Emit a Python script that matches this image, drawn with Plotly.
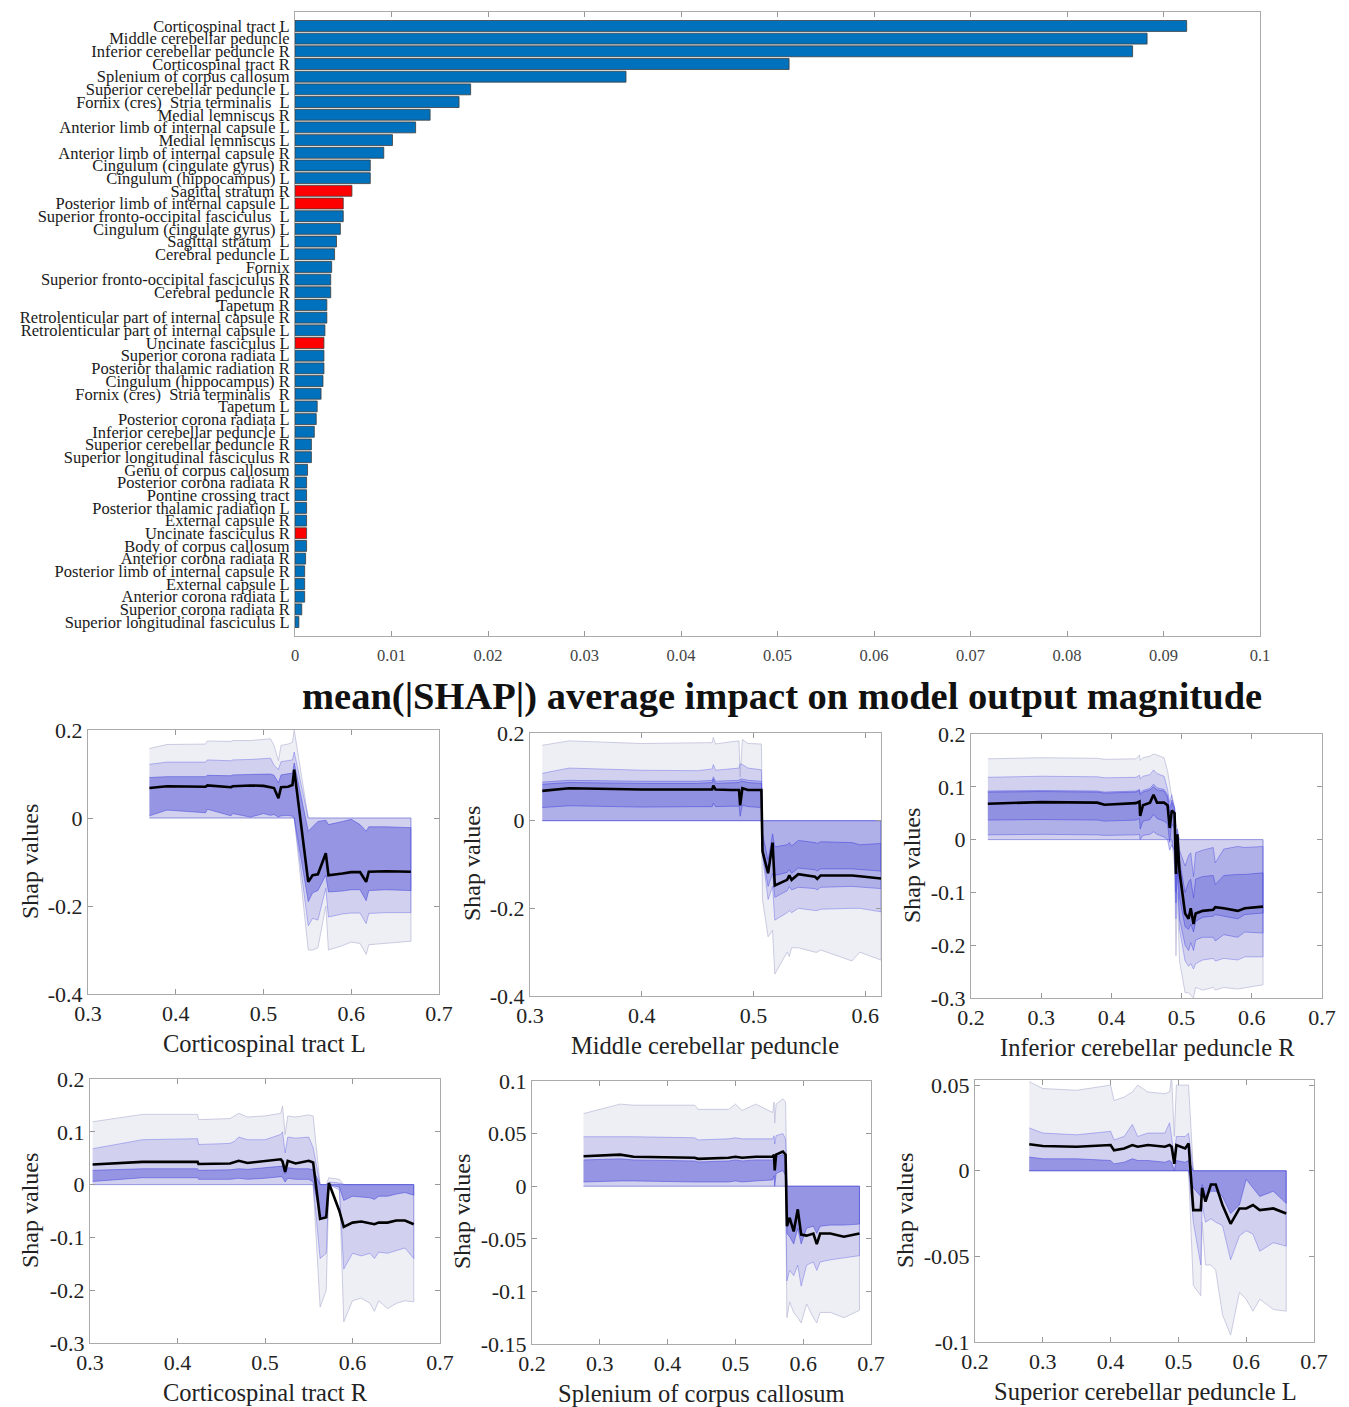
import plotly.graph_objects as go

W, H = 1349, 1407
PAGE_OFFSET = 8  # browser body margin around the figure
SERIF = "Liberation Serif"

# ---------------- bar chart data ----------------
CATEGORIES = [
    "Corticospinal tract L", "Middle cerebellar peduncle", "Inferior cerebellar peduncle R",
    "Corticospinal tract R", "Splenium of corpus callosum", "Superior cerebellar peduncle L",
    "Fornix (cres)\u00a0 Stria terminalis\u00a0 L", "Medial lemniscus R", "Anterior limb of internal capsule L",
    "Medial lemniscus L", "Anterior limb of internal capsule R", "Cingulum (cingulate gyrus) R",
    "Cingulum (hippocampus) L", "Sagittal stratum R", "Posterior limb of internal capsule L",
    "Superior fronto-occipital fasciculus\u00a0 L", "Cingulum (cingulate gyrus) L", "Sagittal stratum\u00a0 L",
    "Cerebral peduncle L", "Fornix", "Superior fronto-occipital fasciculus R", "Cerebral peduncle R",
    "Tapetum R", "Retrolenticular part of internal capsule R", "Retrolenticular part of internal capsule L",
    "Uncinate fasciculus L", "Superior corona radiata L", "Posterior thalamic radiation R",
    "Cingulum (hippocampus) R", "Fornix (cres)\u00a0 Stria terminalis\u00a0 R", "Tapetum L",
    "Posterior corona radiata L", "Inferior cerebellar peduncle L", "Superior cerebellar peduncle R",
    "Superior longitudinal fasciculus R", "Genu of corpus callosum", "Posterior corona radiata R",
    "Pontine crossing tract", "Posterior thalamic radiation L", "External capsule R",
    "Uncinate fasciculus R", "Body of corpus callosum", "Anterior corona radiata R",
    "Posterior limb of internal capsule R", "External capsule L", "Anterior corona radiata L",
    "Superior corona radiata R", "Superior longitudinal fasciculus L",
]
IMPORTANCE = [
    0.0924, 0.0883, 0.0868, 0.0512, 0.0343, 0.0182, 0.0170, 0.0140, 0.0125, 0.0101,
    0.0092, 0.0078, 0.0078, 0.0059, 0.0050, 0.0050, 0.0047, 0.0043, 0.0041, 0.0038,
    0.0037, 0.0037, 0.0033, 0.0033, 0.0031, 0.0030, 0.0030, 0.0030, 0.0029, 0.0027,
    0.0023, 0.0022, 0.0020, 0.0017, 0.0017, 0.0013, 0.0012, 0.0012, 0.0012, 0.0012,
    0.0012, 0.0012, 0.0011, 0.0010, 0.0010, 0.0010, 0.0007, 0.0004,
]
HIGHLIGHTED = ["Sagittal stratum R", "Posterior limb of internal capsule L",
               "Uncinate fasciculus L", "Uncinate fasciculus R"]
BAR_TICKS = [0, 0.01, 0.02, 0.03, 0.04, 0.05, 0.06, 0.07, 0.08, 0.09, 0.1]
BAR_TICKTEXT = ["0", "0.01", "0.02", "0.03", "0.04", "0.05", "0.06", "0.07", "0.08", "0.09", "0.1"]

# ---------------- dependence plot data ----------------
# Plot 1: Corticospinal tract L
P1_X = [0.370, 0.390, 0.434, 0.436, 0.463, 0.465, 0.485, 0.500, 0.508, 0.512, 0.517, 0.520, 0.528, 0.533, 0.535,
        0.551, 0.556, 0.562, 0.571, 0.574, 0.590, 0.600, 0.610, 0.617, 0.620, 0.640, 0.668]
P1_MED = [0.068, 0.072, 0.071, 0.074, 0.070, 0.072, 0.074, 0.073, 0.070, 0.068, 0.045, 0.070, 0.071, 0.075, 0.110,
          -0.145, -0.130, -0.128, -0.080, -0.130, -0.126, -0.123, -0.123, -0.145, -0.122, -0.121, -0.122]
P1_B1_HI = [0.158, 0.167, 0.168, 0.175, 0.174, 0.176, 0.176, 0.178, 0.180, 0.165, 0.130, 0.165, 0.168, 0.172, 0.200,
            0, 0, 0, 0, 0, 0, 0, 0, 0, 0, 0, 0]
P1_B1_LO = [0, 0, 0, 0, 0, 0, 0, 0, 0, 0, 0, 0, 0, 0, 0,
            -0.300, -0.300, -0.295, -0.200, -0.300, -0.290, -0.282, -0.285, -0.310, -0.288, -0.285, -0.280]
P1_B2_HI = [0.122, 0.127, 0.127, 0.132, 0.130, 0.132, 0.133, 0.134, 0.136, 0.120, 0.110, 0.128, 0.130, 0.132, 0.150,
            0, 0, 0, 0, 0, 0, 0, 0, 0, 0, 0, 0]
P1_B2_LO = [0, 0, 0, 0, 0, 0, 0, 0, 0, 0, 0, 0, 0, 0, 0,
            -0.245, -0.228, -0.232, -0.160, -0.225, -0.218, -0.216, -0.216, -0.240, -0.217, -0.215, -0.215]
P1_B3_HI = [0.092, 0.094, 0.094, 0.097, 0.096, 0.098, 0.099, 0.100, 0.100, 0.097, 0.080, 0.098, 0.100, 0.102, 0.125,
            -0.030, -0.020, -0.008, -0.005, -0.015, -0.008, -0.003, -0.015, -0.030, -0.020, -0.020, -0.022]
P1_B3_LO = [0.005, 0.018, 0.012, 0.020, 0.005, 0.010, 0.002, 0.010, 0.006, 0.008, 0.002, 0.005, 0.006, 0.004, 0.000,
            -0.190, -0.170, -0.165, -0.130, -0.168, -0.166, -0.163, -0.163, -0.188, -0.165, -0.163, -0.165]

# Plot 2: Middle cerebellar peduncle
P2_X = [0.311, 0.335, 0.400, 0.450, 0.463, 0.464, 0.466, 0.480, 0.487, 0.488, 0.490, 0.495, 0.507,
        0.508, 0.513, 0.517, 0.519, 0.530, 0.532, 0.534, 0.540, 0.555, 0.557, 0.560, 0.588, 0.595, 0.614]
P2_MED = [0.068, 0.074, 0.071, 0.072, 0.071, 0.080, 0.071, 0.070, 0.070, 0.035, 0.074, 0.070, 0.070,
          -0.070, -0.120, -0.050, -0.148, -0.135, -0.125, -0.135, -0.122, -0.128, -0.133, -0.125, -0.125, -0.127, -0.132]
P2_B1_HI = [0.172, 0.182, 0.176, 0.178, 0.178, 0.190, 0.175, 0.180, 0.182, 0.100, 0.185, 0.176, 0.175,
            0, 0, 0, 0, 0, 0, 0, 0, 0, 0, 0, 0, 0, 0]
P2_B1_LO = [0, 0, 0, 0, 0, 0, 0, 0, 0, 0, 0, 0, 0,
            -0.180, -0.265, -0.250, -0.350, -0.300, -0.310, -0.290, -0.290, -0.300, -0.300, -0.295, -0.320, -0.300, -0.318]
P2_B2_HI = [0.108, 0.120, 0.115, 0.114, 0.118, 0.128, 0.115, 0.118, 0.120, 0.130, 0.128, 0.120, 0.116,
            0, 0, 0, 0, 0, 0, 0, 0, 0, 0, 0, 0, 0, 0]
P2_B2_LO = [0, 0, 0, 0, 0, 0, 0, 0, 0, 0, 0, 0, 0,
            -0.080, -0.180, -0.150, -0.227, -0.210, -0.205, -0.210, -0.200, -0.205, -0.205, -0.202, -0.200, -0.200, -0.208]
P2_B3_HI = [0.088, 0.092, 0.090, 0.090, 0.092, 0.100, 0.090, 0.091, 0.092, 0.095, 0.095, 0.092, 0.090,
            0, 0, 0, 0, 0, 0, 0, 0, 0, 0, 0, 0, 0, 0]
P2_B3_LO = [0, 0, 0, 0, 0, 0, 0, 0, 0, 0, 0, 0, 0,
            -0.075, -0.150, -0.120, -0.175, -0.160, -0.150, -0.158, -0.152, -0.155, -0.158, -0.152, -0.150, -0.152, -0.155]
P2_B4_HI = [0.083, 0.087, 0.085, 0.085, 0.087, 0.095, 0.085, 0.086, 0.087, 0.090, 0.090, 0.087, 0.085,
            -0.030, -0.090, -0.030, -0.060, -0.055, -0.050, -0.058, -0.045, -0.050, -0.052, -0.048, -0.050, -0.055, -0.052]
P2_B4_LO = [0.030, 0.034, 0.031, 0.032, 0.032, 0.040, 0.032, 0.033, 0.033, 0.010, 0.035, 0.032, 0.030,
            -0.065, -0.120, -0.060, -0.125, -0.118, -0.112, -0.120, -0.108, -0.112, -0.115, -0.110, -0.110, -0.112, -0.115]

# Plot 3: Inferior cerebellar peduncle R
P3_X = [0.224, 0.300, 0.380, 0.390, 0.435, 0.440, 0.441, 0.445, 0.455, 0.460, 0.465, 0.475, 0.480, 0.483, 0.486,
        0.490, 0.492, 0.494, 0.497, 0.505, 0.510, 0.513, 0.517, 0.520, 0.530, 0.545, 0.548, 0.560, 0.580, 0.590, 0.616]
P3_MED = [0.068, 0.071, 0.070, 0.066, 0.069, 0.072, 0.045, 0.065, 0.070, 0.085, 0.070, 0.070, 0.065, 0.022, 0.055,
          0.050, -0.065, 0.010, -0.060, -0.140, -0.150, -0.130, -0.160, -0.140, -0.135, -0.133, -0.128, -0.130, -0.135, -0.130, -0.127]
P3_B1_HI = [0.153, 0.155, 0.154, 0.152, 0.153, 0.160, 0.150, 0.155, 0.158, 0.162, 0.160, 0.155, 0.130, 0.100, 0.080,
            0.060, 0.030, 0.020, 0.000, 0, 0, 0, 0, 0, 0, 0, 0, 0, 0, 0, 0]
P3_B1_LO = [0, 0, 0, 0, 0, 0, 0, 0, 0, 0, 0, 0, 0, 0, 0,
            -0.050, -0.220, -0.100, -0.230, -0.290, -0.290, -0.295, -0.300, -0.280, -0.285, -0.280, -0.285, -0.280, -0.283, -0.280, -0.275]
P3_B2_HI = [0.118, 0.120, 0.119, 0.117, 0.118, 0.122, 0.115, 0.120, 0.123, 0.132, 0.125, 0.120, 0.095, 0.070, 0.085,
            0.060, 0.020, 0.010, 0.000, 0, 0, 0, 0, 0, 0, 0, 0, 0, 0, 0, 0]
P3_B2_LO = [0, 0, 0, 0, 0, 0, 0, 0, 0, 0, 0, 0, 0, 0, 0,
            -0.030, -0.150, -0.060, -0.170, -0.230, -0.240, -0.235, -0.245, -0.235, -0.228, -0.225, -0.230, -0.225, -0.228, -0.222, -0.222]
P3_B3_HI = [0.092, 0.093, 0.092, 0.090, 0.092, 0.095, 0.088, 0.093, 0.097, 0.105, 0.098, 0.095, 0.085, 0.060, 0.075,
            0.060, 0.000, 0.020, -0.020, -0.050, -0.030, -0.025, -0.070, -0.025, -0.020, -0.015, -0.044, -0.018, -0.013, -0.015, -0.013]
P3_B3_LO = [0.009, 0.010, 0.009, 0.008, 0.009, 0.010, 0.000, 0.008, 0.010, 0.015, 0.010, 0.005, 0.000, -0.020, -0.010,
            -0.020, -0.120, -0.060, -0.150, -0.200, -0.210, -0.195, -0.210, -0.190, -0.185, -0.185, -0.192, -0.180, -0.185, -0.175, -0.177]
P3_B4_HI = [0.090, 0.091, 0.090, 0.088, 0.090, 0.093, 0.085, 0.090, 0.094, 0.100, 0.094, 0.092, 0.080, 0.050, 0.070,
            0.055, -0.020, 0.010, -0.040, -0.100, -0.080, -0.075, -0.110, -0.075, -0.070, -0.068, -0.085, -0.068, -0.066, -0.066, -0.063]
P3_B4_LO = [0.037, 0.038, 0.037, 0.035, 0.037, 0.040, 0.020, 0.035, 0.038, 0.048, 0.040, 0.035, 0.030, -0.005, 0.030,
            0.020, -0.100, -0.030, -0.110, -0.165, -0.170, -0.160, -0.175, -0.155, -0.147, -0.145, -0.142, -0.145, -0.150, -0.142, -0.139]

# Plot 4: Corticospinal tract R
P4_X = [0.303, 0.360, 0.423, 0.424, 0.460, 0.465, 0.470, 0.480, 0.500, 0.518, 0.520, 0.523, 0.526, 0.535, 0.550, 0.555,
        0.563, 0.570, 0.573, 0.585, 0.590, 0.600, 0.610, 0.620, 0.625, 0.630, 0.640, 0.650, 0.660, 0.670]
P4_MED = [0.038, 0.043, 0.043, 0.039, 0.040, 0.042, 0.045, 0.041, 0.045, 0.048, 0.044, 0.024, 0.045, 0.040, 0.045, 0.042,
          -0.065, -0.062, 0.003, -0.050, -0.080, -0.072, -0.070, -0.073, -0.075, -0.072, -0.072, -0.068, -0.068, -0.075]
P4_B1_HI = [0.119, 0.133, 0.133, 0.123, 0.125, 0.130, 0.135, 0.128, 0.130, 0.135, 0.149, 0.095, 0.130, 0.128, 0.132, 0.130,
            0, 0, 0.013, 0.010, 0, 0, 0, 0, 0, 0, 0, 0, 0, 0]
P4_B1_LO = [0, 0, 0, 0, 0, 0, 0, 0, 0, 0, 0, 0, 0, 0, 0, 0,
            -0.232, -0.200, 0.000, 0.000, -0.260, -0.220, -0.215, -0.225, -0.240, -0.220, -0.235, -0.225, -0.220, -0.222]
P4_B2_HI = [0.068, 0.085, 0.087, 0.076, 0.078, 0.082, 0.090, 0.085, 0.085, 0.095, 0.100, 0.060, 0.090, 0.088, 0.090, 0.070,
            0, 0, 0.005, 0.003, 0, 0, 0, 0, 0, 0, 0, 0, 0, 0]
P4_B2_LO = [0, 0, 0, 0, 0, 0, 0, 0, 0, 0, 0, 0, 0, 0, 0, 0,
            -0.140, -0.130, 0.000, -0.010, -0.160, -0.130, -0.135, -0.130, -0.140, -0.128, -0.130, -0.125, -0.120, -0.140]
P4_B3_HI = [0.027, 0.030, 0.030, 0.027, 0.028, 0.029, 0.030, 0.029, 0.032, 0.034, 0.035, 0.020, 0.032, 0.030, 0.030, 0.028,
            0, 0, 0, 0, 0, 0, 0, 0, 0, 0, 0, 0, 0, 0]
P4_B3_LO = [0.006, 0.013, 0.013, 0.010, 0.010, 0.011, 0.012, 0.010, 0.012, 0.015, 0.014, 0.005, 0.012, 0.010, 0.010, 0.005,
            -0.060, -0.060, 0.000, -0.005, -0.030, -0.022, -0.024, -0.025, -0.028, -0.022, -0.022, -0.018, -0.015, -0.020]

# Plot 5: Splenium of corpus callosum
P5_X = [0.276, 0.330, 0.350, 0.440, 0.445, 0.490, 0.500, 0.510, 0.530, 0.555, 0.557, 0.558, 0.560, 0.570, 0.574,
        0.576, 0.580, 0.586, 0.592, 0.597, 0.605, 0.615, 0.620, 0.625, 0.640, 0.660, 0.683]
P5_MED = [0.0285, 0.030, 0.028, 0.027, 0.026, 0.027, 0.028, 0.027, 0.028, 0.028, 0.030, 0.015, 0.030, 0.033, 0.030,
          -0.038, -0.030, -0.043, -0.022, -0.046, -0.047, -0.045, -0.055, -0.045, -0.045, -0.048, -0.045]
P5_B1_HI = [0.069, 0.078, 0.077, 0.077, 0.073, 0.073, 0.078, 0.072, 0.078, 0.070, 0.080, 0.060, 0.078, 0.083, 0.080,
            0, 0, 0, 0, 0, 0, 0, 0, 0, 0, 0, 0]
P5_B1_LO = [0, 0, 0, 0, 0, 0, 0, 0, 0, 0, 0, 0, 0, 0, 0,
            -0.125, -0.110, -0.120, -0.125, -0.130, -0.112, -0.125, -0.130, -0.120, -0.120, -0.125, -0.118]
P5_B2_HI = [0.047, 0.047, 0.047, 0.046, 0.044, 0.045, 0.046, 0.045, 0.045, 0.045, 0.048, 0.040, 0.048, 0.050, 0.045,
            0, 0, 0, 0, 0, 0, 0, 0, 0, 0, 0, 0]
P5_B2_LO = [0, 0, 0, 0, 0, 0, 0, 0, 0, 0, 0, 0, 0, 0, 0,
            -0.090, -0.080, -0.085, -0.075, -0.095, -0.075, -0.072, -0.080, -0.072, -0.070, -0.068, -0.066]
P5_B3_HI = [0.025, 0.026, 0.025, 0.024, 0.023, 0.024, 0.025, 0.024, 0.025, 0.025, 0.027, 0.015, 0.028, 0.030, 0.027,
            0, 0, 0, 0, 0, 0, 0, 0, 0, 0, 0, 0]
P5_B3_LO = [0.004, 0.005, 0.005, 0.004, 0.004, 0.004, 0.005, 0.004, 0.005, 0.006, 0.010, 0.000, 0.012, 0.015, 0.010,
            -0.045, -0.048, -0.055, -0.040, -0.055, -0.040, -0.038, -0.045, -0.038, -0.037, -0.037, -0.036]

# Plot 6: Superior cerebellar peduncle L
P6_X = [0.280, 0.300, 0.350, 0.400, 0.405, 0.420, 0.432, 0.440, 0.455, 0.480, 0.487, 0.490, 0.494, 0.497, 0.510, 0.515,
        0.522, 0.533, 0.535, 0.540, 0.548, 0.555, 0.565, 0.577, 0.590, 0.600, 0.610, 0.620, 0.640, 0.659]
P6_MED = [0.0155, 0.0145, 0.014, 0.015, 0.012, 0.013, 0.015, 0.014, 0.015, 0.014, 0.015, 0.014, 0.004, 0.015, 0.013, 0.016,
          -0.023, -0.023, -0.010, -0.018, -0.008, -0.008, -0.020, -0.031, -0.022, -0.022, -0.020, -0.023, -0.022, -0.025]
P6_B1_HI = [0.052, 0.048, 0.047, 0.050, 0.041, 0.043, 0.046, 0.050, 0.046, 0.045, 0.046, 0.055, 0.020, 0.050, 0.050, 0.050,
            0, 0, 0, 0, 0, 0, 0, 0, 0, 0, 0, 0, 0, 0]
P6_B1_LO = [0, 0, 0, 0, 0, 0, 0, 0, 0, 0, 0, 0, 0, 0, 0, 0,
            -0.067, -0.073, -0.030, -0.055, -0.055, -0.058, -0.084, -0.096, -0.071, -0.075, -0.082, -0.075, -0.081, -0.082]
P6_B2_HI = [0.025, 0.022, 0.021, 0.023, 0.018, 0.020, 0.027, 0.020, 0.022, 0.022, 0.028, 0.020, 0.008, 0.020, 0.020, 0.022,
            0, 0, 0, 0, 0, 0, 0, 0, 0, 0, 0, 0, 0, 0]
P6_B2_LO = [0, 0, 0, 0, 0, 0, 0, 0, 0, 0, 0, 0, 0, 0, 0, 0,
            -0.030, -0.055, -0.020, -0.030, -0.028, -0.030, -0.032, -0.052, -0.038, -0.035, -0.037, -0.047, -0.042, -0.044]
P6_B3_HI = [0.008, 0.007, 0.007, 0.006, 0.004, 0.005, 0.007, 0.006, 0.006, 0.005, 0.006, 0.005, 0.000, 0.006, 0.005, 0.006,
            0, 0, 0, 0, 0, 0, 0, 0, 0, 0, 0, 0, 0, 0]
P6_B3_LO = [0, 0, 0, 0, 0, 0, 0, 0, 0, 0, 0, 0, 0, 0, 0, 0,
            -0.010, -0.015, -0.008, -0.015, -0.012, -0.012, -0.015, -0.025, -0.020, -0.005, -0.010, -0.015, -0.012, -0.019]

PANEL_TITLES = ["Corticospinal tract L", "Middle cerebellar peduncle", "Inferior cerebellar peduncle R",
                "Corticospinal tract R", "Splenium of corpus callosum", "Superior cerebellar peduncle L"]
PANEL_XTICKS = [[0.3, 0.4, 0.5, 0.6, 0.7], [0.3, 0.4, 0.5, 0.6], [0.2, 0.3, 0.4, 0.5, 0.6, 0.7],
                [0.3, 0.4, 0.5, 0.6, 0.7], [0.2, 0.3, 0.4, 0.5, 0.6, 0.7], [0.2, 0.3, 0.4, 0.5, 0.6, 0.7]]
PANEL_YTICKS = [[-0.4, -0.2, 0, 0.2], [-0.4, -0.2, 0, 0.2], [-0.3, -0.2, -0.1, 0, 0.1, 0.2],
                [-0.3, -0.2, -0.1, 0, 0.1, 0.2], [-0.15, -0.1, -0.05, 0, 0.05, 0.1], [-0.1, -0.05, 0, 0.05]]

# ---------------- layout geometry (screen pixels) ----------------
PANEL_BOX = [  # x0, x1, y0(top), y1(bottom)
    (88, 439, 730, 994), (530, 881, 733, 996), (971, 1322, 734, 998),
    (90, 440, 1079, 1343), (532, 871, 1081, 1344), (975, 1314, 1080, 1342),
]
PANEL_XRANGE = [(0.3, 0.7), (0.3, 0.614), (0.2, 0.7), (0.3, 0.7), (0.2, 0.7), (0.2, 0.7)]
PANEL_YRANGE = [(-0.4, 0.2), (-0.4, 0.2), (-0.3, 0.2), (-0.3, 0.2), (-0.15, 0.1), (-0.1, 0.053)]
YTITLE_POS = [(30, 862), (472, 864), (912, 866), (30, 1211), (462, 1211), (905, 1211)]
XTITLE_POS = [(264, 1043), (705, 1045), (1147, 1047), (265, 1392), (701, 1393), (1145, 1391)]

PANELS = [
    (P1_X, P1_MED, [(P1_B1_LO, P1_B1_HI), (P1_B2_LO, P1_B2_HI), (P1_B3_LO, P1_B3_HI)]),
    (P2_X, P2_MED, [(P2_B1_LO, P2_B1_HI), (P2_B2_LO, P2_B2_HI), (P2_B3_LO, P2_B3_HI), (P2_B4_LO, P2_B4_HI)]),
    (P3_X, P3_MED, [(P3_B1_LO, P3_B1_HI), (P3_B2_LO, P3_B2_HI), (P3_B3_LO, P3_B3_HI), (P3_B4_LO, P3_B4_HI)]),
    (P4_X, P4_MED, [(P4_B1_LO, P4_B1_HI), (P4_B2_LO, P4_B2_HI), (P4_B3_LO, P4_B3_HI)]),
    (P5_X, P5_MED, [(P5_B1_LO, P5_B1_HI), (P5_B2_LO, P5_B2_HI), (P5_B3_LO, P5_B3_HI)]),
    (P6_X, P6_MED, [(P6_B1_LO, P6_B1_HI), (P6_B2_LO, P6_B2_HI), (P6_B3_LO, P6_B3_HI)]),
]

FILLS = {
    3: ["#EEEEF5", "rgba(110,110,220,0.22)", "rgba(90,90,215,0.50)"],
    4: ["#EEEEF5", "rgba(110,110,220,0.22)", "rgba(100,100,220,0.30)", "rgba(90,90,215,0.35)"],
}
EDGES = {
    3: ["rgba(185,185,215,0.9)", "rgba(90,90,230,0.5)", "rgba(60,60,220,0.6)"],
    4: ["rgba(185,185,215,0.9)", "rgba(90,90,230,0.5)", "rgba(70,70,225,0.55)", "rgba(60,60,220,0.6)"],
}


def fx(px):
    return (px - PAGE_OFFSET) / W


def fy(py):
    return 1 - (py - PAGE_OFFSET) / H


def fmt(v):
    return f"{round(v, 4):g}"


fig = go.Figure()

# ---------------- bar chart ----------------
bar_colors = ["#FF0000" if c in HIGHLIGHTED else "#0072BD" for c in CATEGORIES]
fig.add_trace(go.Bar(
    x=IMPORTANCE, y=CATEGORIES, orientation="h", width=0.86,
    marker=dict(color=bar_colors, line=dict(color="#3c3c3c", width=0.8)),
    xaxis="x", yaxis="y", showlegend=False,
))

layout = dict(
    template="none",
    width=W, height=H, autosize=False,
    margin=dict(l=0, r=0, t=0, b=0, pad=0),
    paper_bgcolor="white", plot_bgcolor="white",
    font=dict(family=SERIF, color="#222"),
    showlegend=False,
    xaxis=dict(domain=[fx(295), fx(1260)], range=[0, 0.1], tickvals=BAR_TICKS, ticktext=BAR_TICKTEXT,
               ticks="inside", ticklen=5, tickcolor="#999", showline=True, linecolor="#aaa", linewidth=1,
               mirror="ticks", showgrid=False, zeroline=False, anchor="y", automargin=False,
               ticklabelstandoff=4,
               tickfont=dict(family=SERIF, size=16.5, color="#444")),
    yaxis=dict(domain=[fy(636), fy(12)], type="category", categoryorder="array", categoryarray=CATEGORIES,
               tickmode="array", tickvals=CATEGORIES, ticktext=CATEGORIES,
               range=[48.1, -1.1], autorange=False, ticks="", showline=True, linecolor="#aaa", linewidth=1,
               mirror=True, showgrid=False, zeroline=False, anchor="x", ticklabelstandoff=1, automargin=False,
               tickfont=dict(family=SERIF, size=16.5, color="#1a1a1a")),
)

annotations = [dict(
    text="mean(|SHAP|) average impact on model output magnitude", x=fx(782), y=fy(697),
    xref="paper", yref="paper", xanchor="center", yanchor="middle", showarrow=False,
    font=dict(family=SERIF, size=38.5, color="#111", weight="bold"),
)]

# ---------------- dependence panels ----------------
for i, (xs, med, bands) in enumerate(PANELS):
    k = i + 2
    xa, ya = f"x{k}", f"y{k}"
    n = len(bands)
    for j, (lo, hi) in enumerate(bands):
        fig.add_trace(go.Scatter(
            x=list(xs) + list(xs)[::-1], y=list(hi) + list(lo)[::-1],
            mode="lines", fill="toself", fillcolor=FILLS[n][j],
            line=dict(color=EDGES[n][j], width=0.8), xaxis=xa, yaxis=ya,
            showlegend=False, hoverinfo="skip",
        ))
    fig.add_trace(go.Scatter(
        x=xs, y=med, mode="lines", line=dict(color="black", width=2.6),
        xaxis=xa, yaxis=ya, showlegend=False,
    ))
    x0, x1, y0, y1 = PANEL_BOX[i]
    axis_common = dict(ticks="inside", ticklen=5, tickcolor="#999", showline=True, linecolor="#aaa",
                       linewidth=1, mirror="ticks", showgrid=False, zeroline=False, automargin=False,
                       tickfont=dict(family=SERIF, size=22, color="#222"))
    layout[f"xaxis{k}"] = dict(domain=[fx(x0), fx(x1)], range=list(PANEL_XRANGE[i]), anchor=ya,
                               tickvals=PANEL_XTICKS[i], ticktext=[fmt(v) for v in PANEL_XTICKS[i]],
                               **axis_common)
    layout[f"yaxis{k}"] = dict(domain=[fy(y1), fy(y0)], range=list(PANEL_YRANGE[i]), anchor=xa,
                               tickvals=PANEL_YTICKS[i], ticktext=[fmt(v) for v in PANEL_YTICKS[i]],
                               **axis_common)
    tx, ty = XTITLE_POS[i]
    annotations.append(dict(text=PANEL_TITLES[i], x=fx(tx), y=fy(ty), xref="paper", yref="paper",
                            xanchor="center", yanchor="middle", showarrow=False,
                            font=dict(family=SERIF, size=24.5, color="#222")))
    yx, yy = YTITLE_POS[i]
    annotations.append(dict(text="Shap values", x=fx(yx), y=fy(yy), xref="paper", yref="paper",
                            xanchor="center", yanchor="middle", showarrow=False, textangle=-90,
                            font=dict(family=SERIF, size=24, color="#222")))

layout["annotations"] = annotations
fig.update_layout(**layout)
fig.write_html("out.html")
